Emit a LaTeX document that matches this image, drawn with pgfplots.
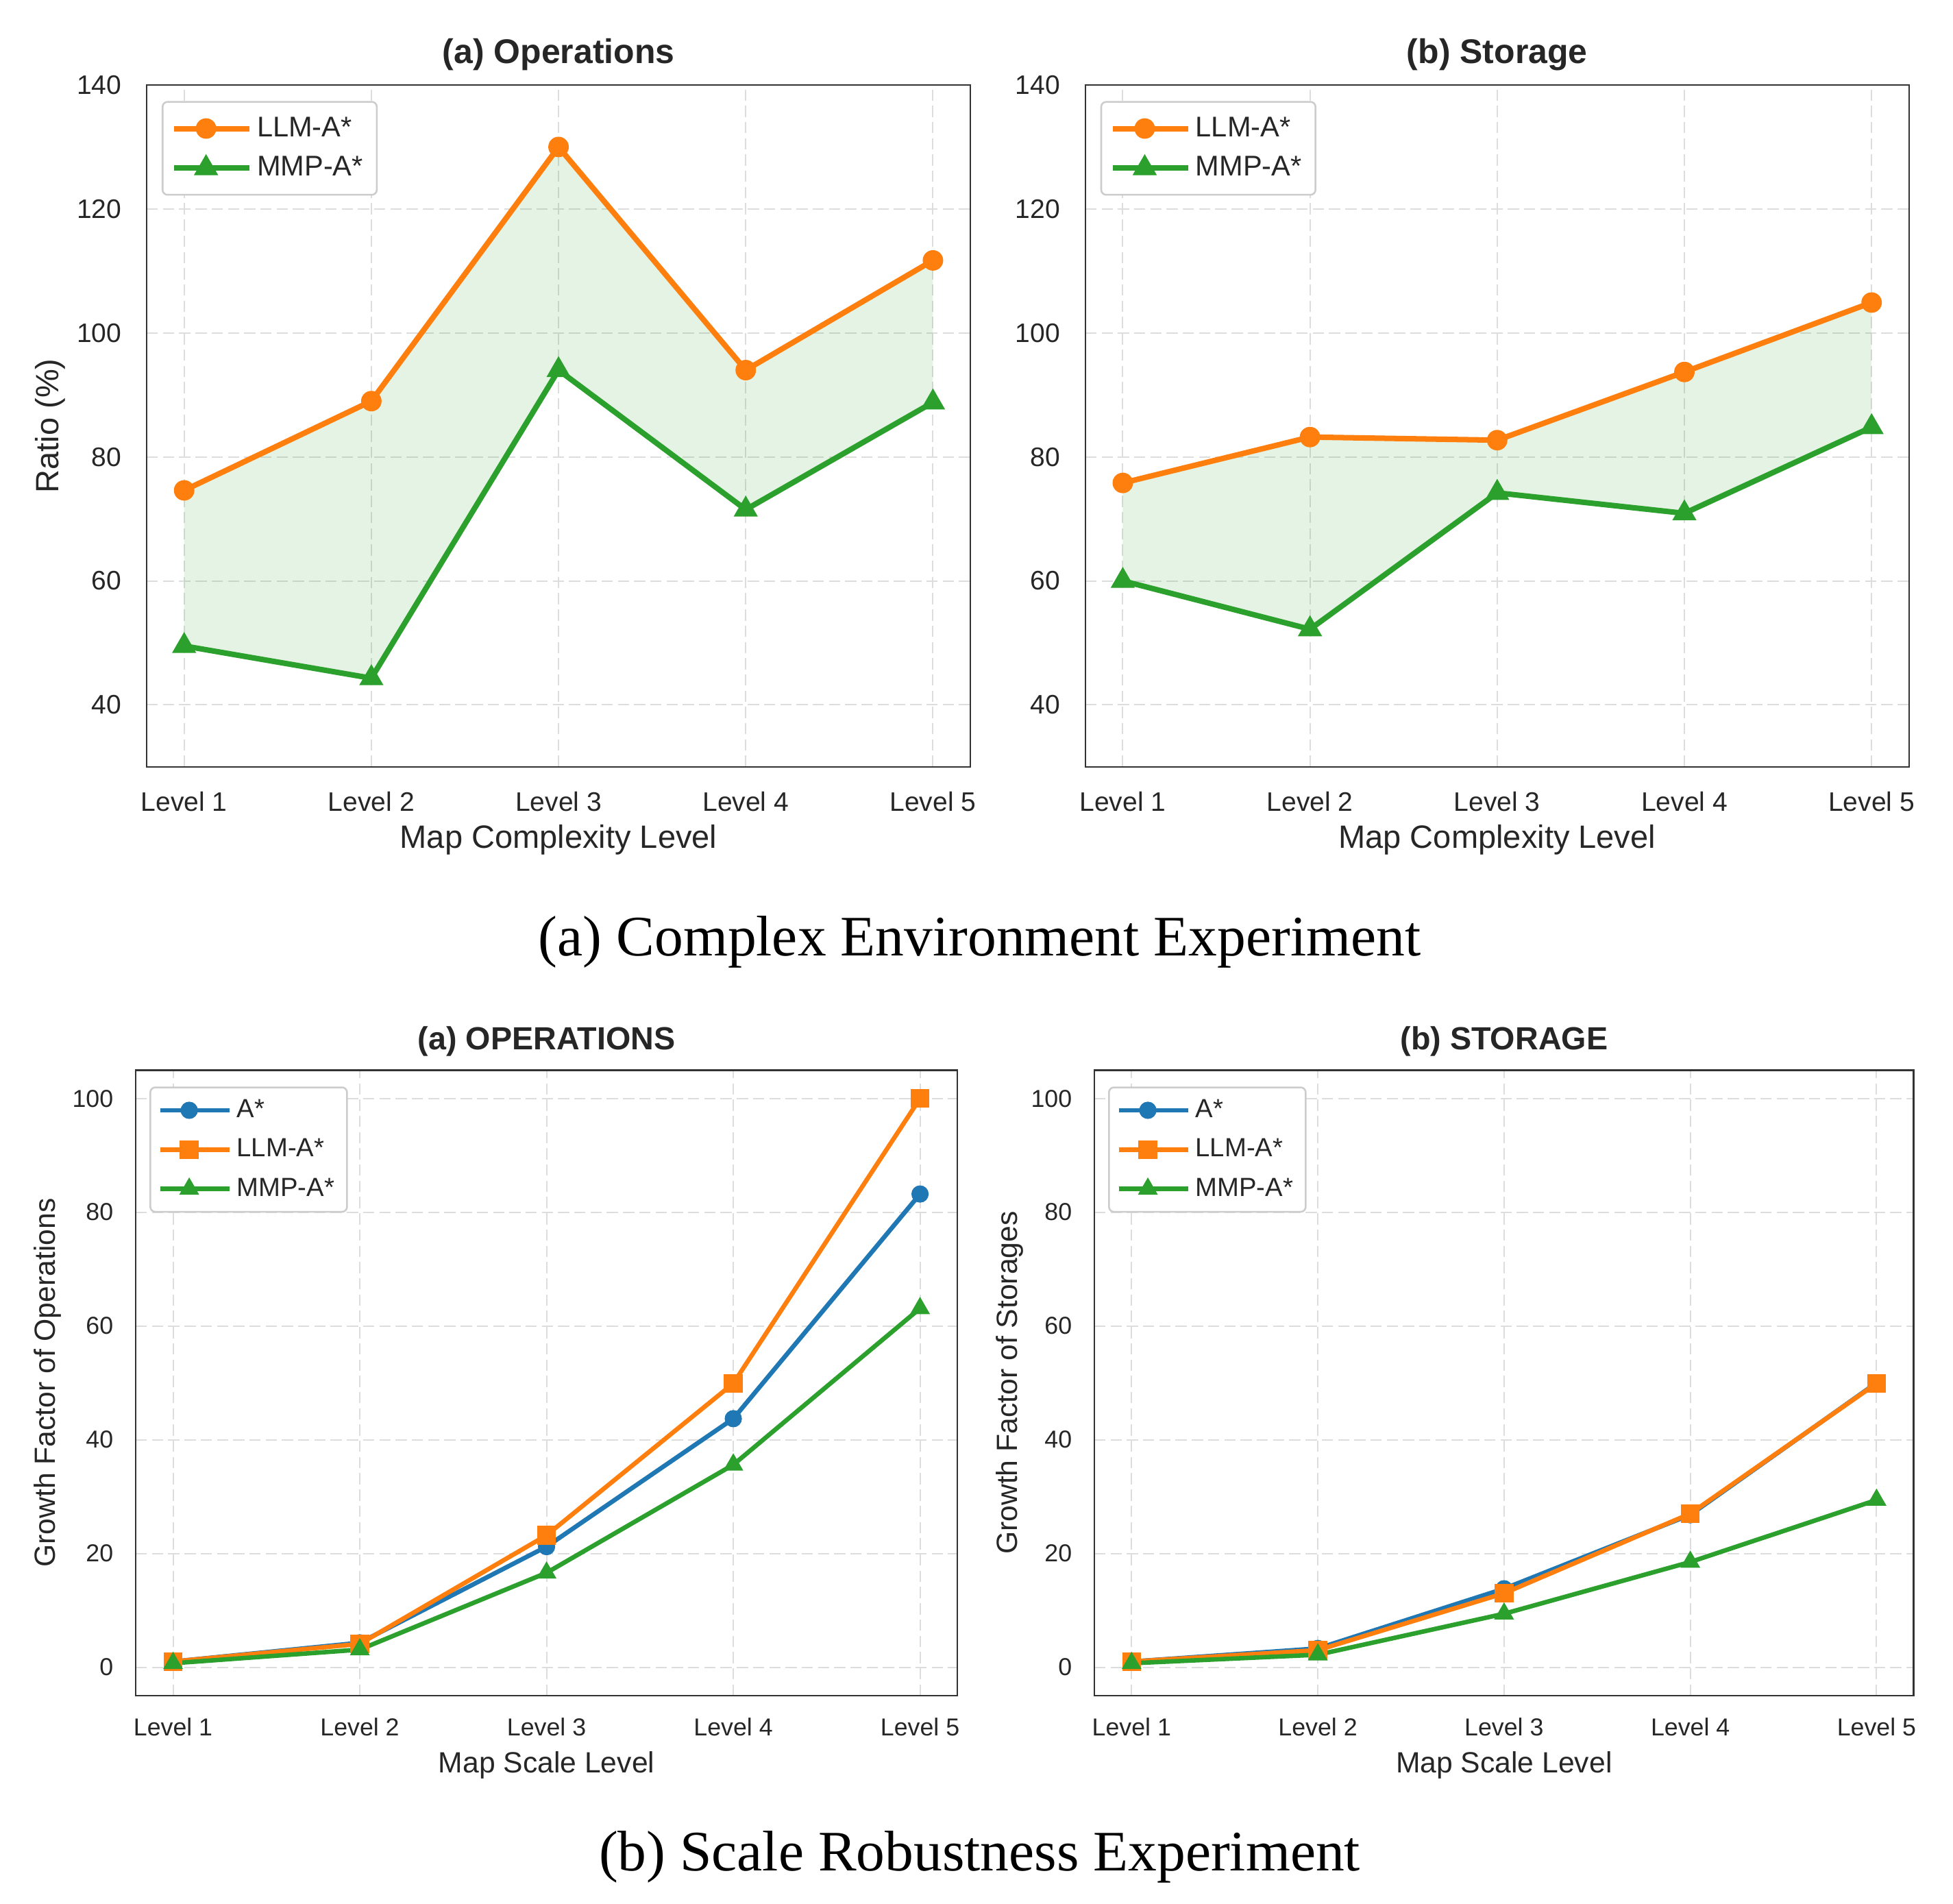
\documentclass[border=0pt]{standalone}
\usepackage{pgfplots}
\pgfplotsset{compat=1.18}
\usepackage{pgfplotstable}
\usepackage{fontspec}
\setmainfont{Liberation Sans}
\newfontfamily\capfont{Liberation Serif}

\definecolor{tabblue}{HTML}{1F77B4}
\definecolor{taborange}{HTML}{FF7F0E}
\definecolor{tabgreen}{HTML}{2CA02C}
\definecolor{framec}{HTML}{333333}
\definecolor{gridc}{HTML}{DDDDDD}
\definecolor{txt}{HTML}{262626}
\definecolor{legframe}{HTML}{CCCCCC}

% complex environment: ratio (%)
\pgfplotstableread{
x llm mmp
0 74.6 49.5
1 89.0 44.3
2 130.0 94.0
3 94.0 71.5
4 111.7 88.8
}\opsratio
\pgfplotstableread{
x llm mmp
0 75.8 60.0
1 83.2 52.2
2 82.7 74.2
3 93.7 70.9
4 104.9 84.8
}\storatio
% shaded band between the two ratio curves (llm forward, mmp back)
\pgfplotstableread{
x y
0 74.6
1 89.0
2 130.0
3 94.0
4 111.7
4 88.8
3 71.5
2 94.0
1 44.3
0 49.5
}\opsband
\pgfplotstableread{
x y
0 75.8
1 83.2
2 82.7
3 93.7
4 104.9
4 84.8
3 70.9
2 74.2
1 52.2
0 60.0
}\stoband
% scale robustness: growth factors
\pgfplotstableread{
x astar llm mmp
0 1.0 1.0 0.7
1 4.3 4.1 3.1
2 21.2 23.2 16.6
3 43.7 49.9 35.6
4 83.2 100.0 63.1
}\opsgrowth
\pgfplotstableread{
x astar llm mmp
0 1.0 1.0 0.7
1 3.3 3.0 2.2
2 13.8 13.0 9.4
3 26.8 27.0 18.5
4 50.0 49.9 29.4
}\stogrowth

\pgfplotsset{
  base/.style={
    scale only axis, anchor=south west,
    xmin=-0.2, xmax=4.2, xtick={0,...,4},
    xticklabels={Level 1,Level 2,Level 3,Level 4,Level 5},
    major tick length=0pt,
    axis line style={framec, line width=0.73pt},
    grid=major,
    grid style={gridc, line width=0.55pt, dash pattern=on 4.5pt off 2pt},
    /pgf/number format/assume math mode=true,
    ticklabel style={text=txt},
    label style={text=txt},
    title style={text=txt, anchor=center},
    yticklabel style={anchor=east, inner sep=0pt},
    xticklabel style={anchor=center},
    xlabel style={at={(axis description cs:0.5,0)}, anchor=center},
    legend cell align=left,
    legend style={at={(axis description cs:0,1)}, anchor=north west,
      draw=legframe, line width=0.7pt, rounded corners=2pt, fill=white,
      text=txt},
  },
  toprow/.style={base,
    width=329.6pt, height=272.8pt,
    ymin=30, ymax=140, ytick={40,60,...,140},
    ticklabel style={font=\fontsize{10.7}{12}\selectfont},
    label style={font=\fontsize{12.9}{15}\selectfont},
    title style={font=\bfseries\fontsize{13.7}{16}\selectfont, yshift=6.1pt},
    xticklabel style={yshift=-14pt},
    yticklabel style={xshift=-9.9pt},
    xlabel style={yshift=-29.1pt},
    legend style={font=\fontsize{11.4}{13}\selectfont, xshift=6pt, yshift=-6.4pt,
      inner xsep=3.5pt, inner ysep=4pt, row sep=2.5pt},
    legend image code/.code={\draw[mark repeat=2,mark phase=2,##1] plot coordinates {(0cm,0cm) (0.45cm,0cm) (0.9cm,0cm)};
      \path (0.9cm,0cm) -- ++(4.5pt,0pt);},
  },
  botrow/.style={base,
    height=250.3pt,
    ymin=-5, ymax=105, ytick={0,20,...,100},
    ticklabel style={font=\fontsize{9.8}{11}\selectfont},
    label style={font=\fontsize{11.7}{14}\selectfont},
    title style={font=\bfseries\fontsize{12.8}{15}\selectfont, yshift=5.5pt},
    xticklabel style={yshift=-12.6pt},
    yticklabel style={xshift=-8.8pt},
    xlabel style={yshift=-27.7pt},
    legend style={font=\fontsize{10.5}{12}\selectfont, xshift=5.5pt, yshift=-6.6pt,
      inner xsep=3pt, inner ysep=2.8pt, row sep=3pt},
    legend image code/.code={\draw[mark repeat=2,mark phase=2,##1] plot coordinates {(0cm,0cm) (0.41cm,0cm) (0.82cm,0cm)};
      \path (0.82cm,0cm) -- ++(4.5pt,0pt);},
  },
  topllm/.style={taborange, line width=2.2pt, mark=*, mark size=3.9pt, mark options={line width=0.4pt}},
  topmmp/.style={tabgreen, line width=2.2pt, mark=triangle*, mark size=5.2pt, mark options={line width=0.4pt}},
  bota/.style={tabblue, line width=1.8pt, mark=*, mark size=3.3pt, mark options={line width=0.3pt}},
  botllm/.style={taborange, line width=1.8pt, mark=square*, mark size=3.6pt, mark options={line width=0.3pt}},
  botmmp/.style={tabgreen, line width=1.8pt, mark=triangle*, mark size=4.3pt, mark options={line width=0.3pt}},
  shade/.style={draw=none, fill=tabgreen, fill opacity=0.13, mark=none, forget plot},
}

\begin{document}
\begin{tikzpicture}
\path[use as bounding box] (0pt,0pt) rectangle (781.5pt,-761.7pt);

\begin{axis}[toprow, at={(58.7pt,-306.8pt)},
  title={(a) Operations}, xlabel={Map Complexity Level}, ylabel={Ratio (\%)},
  ylabel style={at={(axis description cs:-0.1174,0.5)}, anchor=center}]
\addplot[shade] table[x=x, y=y] {\opsband};
\addplot[topllm] table[x=x, y=llm] {\opsratio};
\addlegendentry{LLM-A*}
\addplot[topmmp] table[x=x, y=mmp] {\opsratio};
\addlegendentry{MMP-A*}
\end{axis}

\begin{axis}[toprow, at={(434.3pt,-306.8pt)},
  title={(b) Storage}, xlabel={Map Complexity Level}]
\addplot[shade] table[x=x, y=y] {\stoband};
\addplot[topllm] table[x=x, y=llm] {\storatio};
\addlegendentry{LLM-A*}
\addplot[topmmp] table[x=x, y=mmp] {\storatio};
\addlegendentry{MMP-A*}
\end{axis}

\node[font=\capfont\fontsize{22.9}{27}\selectfont] at (392pt,-377pt) {(a) Complex Environment Experiment};

\begin{axis}[botrow, width=328.8pt, at={(54.3pt,-678.4pt)},
  title={(a) OPERATIONS}, xlabel={Map Scale Level}, ylabel={Growth Factor of Operations},
  ylabel style={at={(axis description cs:-0.1074,0.5)}, anchor=center}]
\addplot[bota] table[x=x, y=astar] {\opsgrowth};
\addlegendentry{A*}
\addplot[botllm] table[x=x, y=llm] {\opsgrowth};
\addlegendentry{LLM-A*}
\addplot[botmmp] table[x=x, y=mmp] {\opsgrowth};
\addlegendentry{MMP-A*}
\end{axis}

\begin{axis}[botrow, width=327.9pt, at={(437.9pt,-678.4pt)},
  title={(b) STORAGE}, xlabel={Map Scale Level}, ylabel={Growth Factor of Storages},
  ylabel style={at={(axis description cs:-0.1031,0.5)}, anchor=center}]
\addplot[bota] table[x=x, y=astar] {\stogrowth};
\addlegendentry{A*}
\addplot[botllm] table[x=x, y=llm] {\stogrowth};
\addlegendentry{LLM-A*}
\addplot[botmmp] table[x=x, y=mmp] {\stogrowth};
\addlegendentry{MMP-A*}
\end{axis}

\node[font=\capfont\fontsize{22.9}{27}\selectfont] at (392pt,-743pt) {(b) Scale Robustness Experiment};
\end{tikzpicture}
\end{document}
